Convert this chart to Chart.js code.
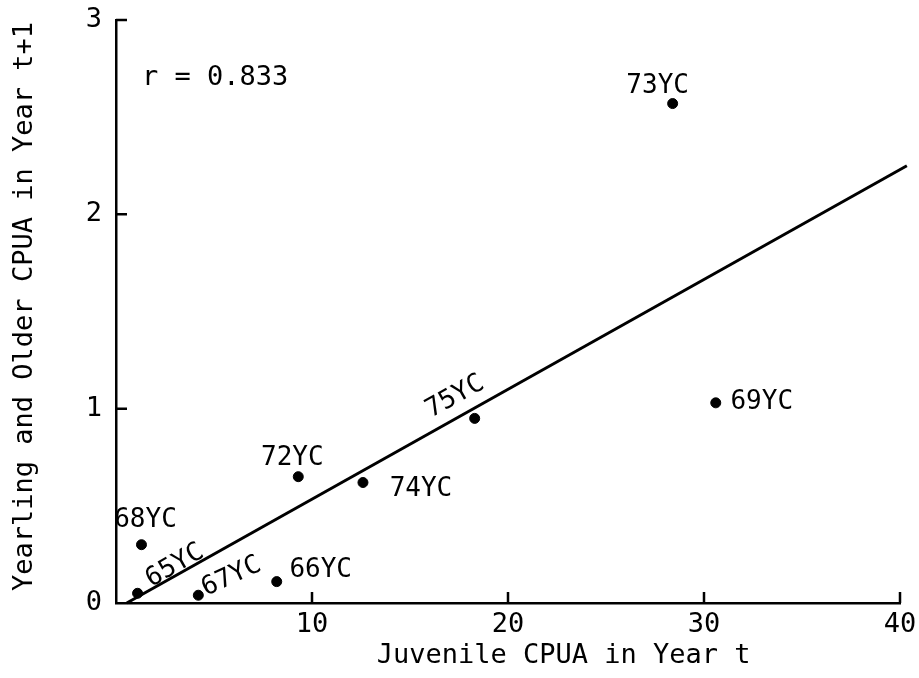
<!DOCTYPE html>
<html>
<head>
<meta charset="utf-8">
<script src="https://cdn.jsdelivr.net/npm/chart.js@4.4.1/dist/chart.umd.min.js"></script>
<style>
  html, body { margin: 0; padding: 0; background: #fff; }
  #wrap { width: 919px; height: 678px; }
</style>
</head>
<body>
<div id="wrap"><canvas id="c" width="919" height="678"></canvas></div>
<script>
// ---- data ----
const yearClasses = ['65YC', '68YC', '67YC', '66YC', '72YC', '74YC', '75YC', '73YC', '69YC'];
const juvenileCPUA = [1.1, 1.3, 4.2, 8.2, 9.3, 12.6, 18.3, 28.4, 30.6];
const olderCPUA = [0.05, 0.30, 0.04, 0.11, 0.65, 0.62, 0.95, 2.57, 1.03];
const fitX = [0.55, 40.35];
const fitY = [0.0, 2.25];
const xTickValues = [10, 20, 30, 40];
const yTickValues = [0, 1, 2, 3];
const correlationText = 'r = 0.833';
const xTitle = 'Juvenile CPUA in Year t';
const yTitle = 'Yearling and Older CPUA in Year t+1';

// ---- styling (label centre offsets relative to their points, px) ----
const FONT = '"DejaVu Sans Mono", monospace';
const CAP = 0.729; // cap height ratio of DejaVu Sans Mono
const labelStyle = {
  '65YC': { dx: 36, dy: -30, rot: -30 },
  '68YC': { dx: 4, dy: -27, rot: 0 },
  '67YC': { dx: 32, dy: -21, rot: -25 },
  '66YC': { dx: 44, dy: -14, rot: 0 },
  '72YC': { dx: -6, dy: -21, rot: 0 },
  '74YC': { dx: 58, dy: 4, rot: 0 },
  '75YC': { dx: -21, dy: -24, rot: -29 },
  '73YC': { dx: -15, dy: -20, rot: 0 },
  '69YC': { dx: 46, dy: -3, rot: 0 }
};

const points = juvenileCPUA.map((x, i) => ({ x: x, y: olderCPUA[i] }));
const fitLine = fitX.map((x, i) => ({ x: x, y: fitY[i] }));

function centredText(ctx, text, size, cx, cy, align) {
  ctx.font = size + 'px ' + FONT;
  ctx.textAlign = align || 'center';
  ctx.textBaseline = 'alphabetic';
  ctx.fillText(text, cx, cy + size * CAP / 2);
}

const decorPlugin = {
  id: 'decor',
  afterDraw(chart) {
    const ctx = chart.ctx;
    const xs = chart.scales.x, ys = chart.scales.y;
    const ca = chart.chartArea;
    ctx.save();
    // inward tick marks
    ctx.strokeStyle = '#000';
    ctx.lineWidth = 2.5;
    ctx.beginPath();
    xTickValues.forEach(v => {
      const px = xs.getPixelForValue(v);
      ctx.moveTo(px, ys.getPixelForValue(0));
      ctx.lineTo(px, ys.getPixelForValue(0) - 11);
    });
    yTickValues.forEach(v => {
      if (v === 0) return;
      const py = ys.getPixelForValue(v);
      ctx.moveTo(xs.getPixelForValue(0), py);
      ctx.lineTo(xs.getPixelForValue(0) + 11, py);
    });
    ctx.stroke();

    // point labels
    ctx.fillStyle = '#000';
    yearClasses.forEach((name, i) => {
      const st = labelStyle[name];
      const px = xs.getPixelForValue(juvenileCPUA[i]);
      const py = ys.getPixelForValue(olderCPUA[i]);
      ctx.save();
      ctx.translate(px + st.dx, py + st.dy);
      ctx.rotate(st.rot * Math.PI / 180);
      centredText(ctx, name, 26, 0, 0, 'center');
      ctx.restore();
    });

    // correlation text
    centredText(ctx, correlationText, 27, ca.left + 26, ca.top + 55, 'left');

    // axis titles
    centredText(ctx, xTitle, 27, ca.left + (ca.right - ca.left) * 0.571, ca.bottom + 50, 'center');
    ctx.save();
    ctx.translate(22, (ca.top + ca.bottom) / 2 - 5);
    ctx.rotate(-Math.PI / 2);
    centredText(ctx, yTitle, 27, 0, 0, 'center');
    ctx.restore();
    ctx.restore();
  }
};

new Chart(document.getElementById('c'), {
  type: 'scatter',
  data: {
    datasets: [
      {
        label: 'Year classes',
        data: points,
        backgroundColor: '#000',
        borderColor: '#000',
        pointRadius: 5,
        pointHoverRadius: 5
      },
      {
        type: 'line',
        label: 'Regression',
        data: fitLine,
        borderColor: '#000',
        borderWidth: 3,
        pointRadius: 0,
        fill: false,
        clip: false
      }
    ]
  },
  options: {
    responsive: false,
    animation: false,
    devicePixelRatio: 1,
    layout: { autoPadding: false, padding: { left: 0, right: 19, top: 20, bottom: 0 } },
    plugins: {
      legend: { display: false },
      tooltip: { enabled: false }
    },
    scales: {
      x: {
        type: 'linear',
        min: 0,
        max: 40,
        afterFit(scale) { scale.height = 75; scale.paddingLeft = 0; scale.paddingRight = 10; },
        afterBuildTicks(scale) { scale.ticks = xTickValues.map(v => ({ value: v })); },
        grid: { display: false, drawTicks: false },
        border: { display: true, color: '#000', width: 2.5 },
        ticks: {
          color: '#000',
          padding: 6,
          maxRotation: 0,
          font: { family: FONT, size: 27 }
        }
      },
      y: {
        type: 'linear',
        min: 0,
        max: 3,
        afterFit(scale) { scale.width = 116; scale.paddingTop = 10; scale.paddingBottom = 0; },
        afterBuildTicks(scale) { scale.ticks = yTickValues.map(v => ({ value: v })); },
        grid: { display: false, drawTicks: false },
        border: { display: true, color: '#000', width: 2.5 },
        ticks: {
          color: '#000',
          padding: 14,
          font: { family: FONT, size: 27 }
        }
      }
    }
  },
  plugins: [decorPlugin]
});
</script>
</body>
</html>
